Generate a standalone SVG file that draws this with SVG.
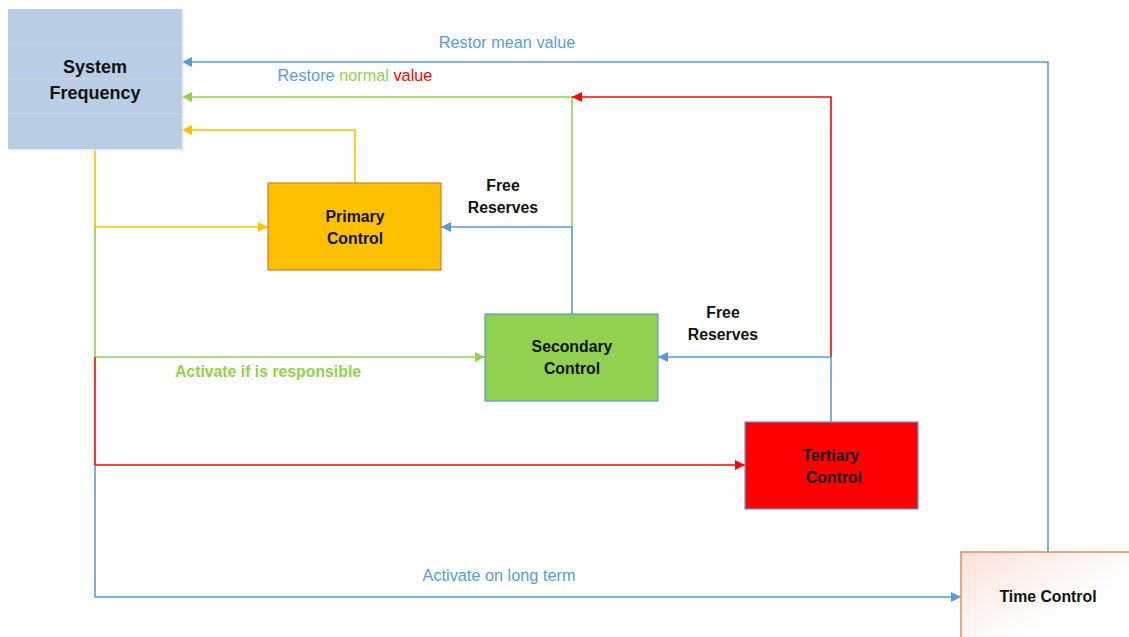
<svg xmlns="http://www.w3.org/2000/svg" width="1129" height="637" viewBox="0 0 1129 637">
<defs>
<style>
.ln{fill:none;stroke-width:1.6}
.y{stroke:#FFC000}.g{stroke:#92D050}.r{stroke:#FF0000}.b{stroke:#5B9BD5}
.t{font-family:"Liberation Sans",Arial,sans-serif;font-weight:bold;fill:#111;text-anchor:middle;font-size:15.8px}
.lb{font-family:"Liberation Sans",Arial,sans-serif;font-size:16.3px;text-anchor:middle}
</style>
<marker id="ay" viewBox="0 0 10 10" refX="10" refY="5" markerWidth="10" markerHeight="10" markerUnits="userSpaceOnUse" orient="auto"><path d="M0,0L10,5L0,10z" fill="#FFC000"/></marker>
<marker id="ag" viewBox="0 0 10 10" refX="10" refY="5" markerWidth="10" markerHeight="10" markerUnits="userSpaceOnUse" orient="auto"><path d="M0,0L10,5L0,10z" fill="#92D050"/></marker>
<marker id="ar" viewBox="0 0 10 10" refX="10" refY="5" markerWidth="10" markerHeight="10" markerUnits="userSpaceOnUse" orient="auto"><path d="M0,0L10,5L0,10z" fill="#FF0000"/></marker>
<marker id="ab" viewBox="0 0 10 10" refX="10" refY="5" markerWidth="10" markerHeight="10" markerUnits="userSpaceOnUse" orient="auto"><path d="M0,0L10,5L0,10z" fill="#5B9BD5"/></marker>
<linearGradient id="tg" x1="0" y1="0" x2="1" y2="1"><stop offset="0" stop-color="#FBE2D8"/><stop offset="0.6" stop-color="#FFFFFF"/></linearGradient>
</defs>
<rect width="1129" height="637" fill="#FFFFFF"/>
<g id="connectors">
<path class="ln y" d="M95,149V227H268" marker-end="url(#ay)"/>
<path class="ln y" d="M355,183V130H182" marker-end="url(#ay)"/>
<path class="ln g" d="M95,227V357H485" marker-end="url(#ag)"/>
<path class="ln g" d="M572,227V97H182" marker-end="url(#ag)"/>
<path class="ln b" d="M572,314V227H441" marker-end="url(#ab)"/>
<path class="ln r" d="M831,357V97H572" marker-end="url(#ar)"/>
<path class="ln b" d="M831,422V357H658" marker-end="url(#ab)"/>
<path class="ln r" d="M95,357V465H745" marker-end="url(#ar)"/>
<path class="ln b" d="M95,465V597H961" marker-end="url(#ab)"/>
<path class="ln b" d="M1048,552V62H182" marker-end="url(#ab)"/>
<text class="lb" x="507" y="48" fill="#5B9BD5">Restor mean value</text>
<text class="lb" x="355" y="81"><tspan fill="#5B9BD5">Restore </tspan><tspan fill="#92D050">normal </tspan><tspan fill="#FF0000">value</tspan></text>
<text class="t" x="503" y="191">Free</text>
<text class="t" x="503" y="213">Reserves</text>
<text class="t" x="723" y="318">Free</text>
<text class="t" x="723" y="340">Reserves</text>
<text class="t" x="268" y="377" style="fill:#92D050">Activate if is responsible</text>
<text class="lb" x="499" y="581" fill="#5B9BD5">Activate on long term</text>
</g>
<g id="system-frequency">
<rect x="10" y="11" width="174" height="140" fill="#E6E6E6" opacity="0.6"/>
<rect x="8" y="9" width="174" height="140" fill="#B9CDE5"/>
<path d="M8,44H182M8,79H182M8,114H182" stroke="#D0D6DE" stroke-width="1.2"/>
<text class="t" x="95" y="73" style="font-size:18px">System</text>
<text class="t" x="95" y="99" style="font-size:18px">Frequency</text>
</g>
<g id="primary-control">
<rect x="268" y="183" width="173" height="87" fill="#FFC000" stroke="#D9792B" stroke-width="1.2"/>
<text class="t" x="355" y="222">Primary</text>
<text class="t" x="355" y="244">Control</text>
</g>
<g id="secondary-control">
<rect x="485" y="314" width="173" height="87" fill="#92D050" stroke="#5B9BD5" stroke-width="1.2"/>
<text class="t" x="572" y="352">Secondary</text>
<text class="t" x="572" y="374">Control</text>
</g>
<g id="tertiary-control">
<rect x="745" y="422" width="173" height="87" fill="#FF0000" stroke="#5B9BD5" stroke-width="1.2"/>
<text class="t" x="831" y="461">Tertiary</text>
<text class="t" x="834" y="483">Control</text>
</g>
<g id="time-control">
<rect x="961" y="552" width="180" height="100" fill="url(#tg)" stroke="#E0884F" stroke-width="1.4"/>
<text class="t" x="1048" y="602">Time Control</text>
</g>
</svg>
